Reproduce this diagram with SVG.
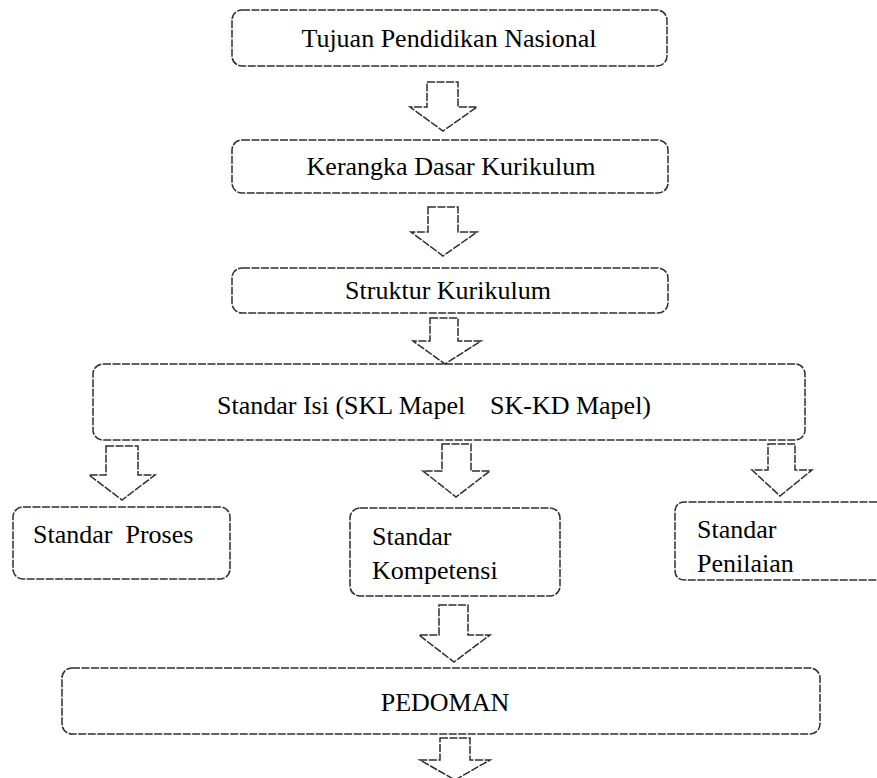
<svg xmlns="http://www.w3.org/2000/svg" width="877" height="778" viewBox="0 0 877 778">
<style>
.box{fill:none;stroke:#2e2e2e;stroke-width:1.5;stroke-dasharray:8 1.5}
.arrow{fill:#fff;stroke:#2e2e2e;stroke-width:1.5;stroke-dasharray:8 1.5;stroke-linejoin:miter}
.t{font-family:"Liberation Serif","Times New Roman",serif;font-size:26px;fill:#000}
</style>
<rect width="877" height="778" fill="#fff"/>
<g id="n1">
<rect class="box" x="232" y="10" width="435" height="56" rx="10"/>
<text class="t" x="449" y="47" text-anchor="middle">Tujuan Pendidikan Nasional</text>
</g>
<g id="n2">
<rect class="box" x="232" y="140" width="436" height="53" rx="10"/>
<text class="t" x="451" y="175" text-anchor="middle">Kerangka Dasar Kurikulum</text>
</g>
<g id="n3">
<rect class="box" x="232" y="268" width="436" height="45" rx="10"/>
<text class="t" x="448" y="299" text-anchor="middle" font-size="25">Struktur Kurikulum</text>
</g>
<g id="n4">
<rect class="box" x="93" y="364" width="712" height="76" rx="10"/>
<text class="t" x="217" y="414">Standar Isi (SKL Mapel</text>
<text class="t" x="490" y="414">SK-KD Mapel)</text>
</g>
<g id="n5">
<rect class="box" x="13" y="507" width="217" height="72" rx="10"/>
<text class="t" x="33" y="543" xml:space="preserve">Standar  Proses</text>
</g>
<g id="n6">
<rect class="box" x="350" y="508" width="210" height="88" rx="10"/>
<text class="t" x="372" y="545">Standar</text>
<text class="t" x="372" y="579">Kompetensi</text>
</g>
<g id="n7">
<path class="box" d="M877 502 H685 Q675 502 675 512 V570 Q675 580 685 580 H877"/>
<text class="t" x="697" y="538">Standar</text>
<text class="t" x="697" y="572">Penilaian</text>
</g>
<g id="n8">
<rect class="box" x="62" y="668" width="758" height="66" rx="10" stroke="#555"/>
<text class="t" x="445" y="711" text-anchor="middle">PEDOMAN</text>
</g>
<g id="connectors">
<polygon class="arrow" points="427,82 458,82 458,107 477,107 443,131 410,107 427,107"/>
<polygon class="arrow" points="428,207 458,207 458,232 477,232 443,256 411,232 428,232"/>
<polygon class="arrow" points="430,318 458,318 458,341 481,341 445,364 413,341 430,341"/>
<polygon class="arrow" points="106,446 138,446 138,475 155,475 122,500 89,475 106,475"/>
<polygon class="arrow" points="442,444 471,444 471,471 490,471 456,497 423,471 442,471"/>
<polygon class="arrow" points="768,444 795,444 795,470 812,470 780,496 752,470 768,470"/>
<polygon class="arrow" points="439,605 468,605 468,635 490,635 454,662 419,635 439,635"/>
<polygon class="arrow" points="440,738 470,738 470,760 490,760 455,780 420,760 440,760"/>
</g>
</svg>
